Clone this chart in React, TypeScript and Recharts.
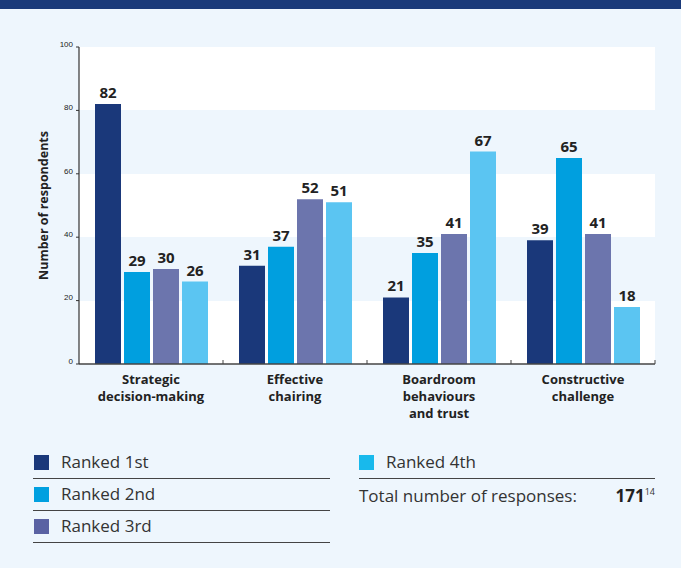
import React from 'react';
import { BarChart, Bar, XAxis, YAxis, CartesianGrid, LabelList, ReferenceLine } from 'recharts';

const categories = ['Strategic\ndecision-making', 'Effective\nchairing', 'Boardroom\nbehaviours\nand trust', 'Constructive\nchallenge'];
const ranked1st = [82, 31, 21, 39];
const ranked2nd = [29, 37, 35, 65];
const ranked3rd = [30, 52, 41, 41];
const ranked4th = [26, 51, 67, 18];
const yTicks = [0, 20, 40, 60, 80, 100];
const seriesNames = ['Ranked 1st', 'Ranked 2nd', 'Ranked 3rd', 'Ranked 4th'];
const seriesKeys = ['r1', 'r2', 'r3', 'r4'];
const seriesColors = ['#1a387a', '#009fdf', '#6c75ad', '#5bc5f2'];
const legendColors = ['#1a387a', '#00a0e0', '#5a62a3', '#18b9ec'];
const totalResponses = 171;
const footnote = '14';

const data = categories.map((c, i) => ({
  name: c,
  r1: ranked1st[i],
  r2: ranked2nd[i],
  r3: ranked3rd[i],
  r4: ranked4th[i],
}));

const FONT = '"Open Sans", "Noto Sans", sans-serif';
const BG = '#eef6fd';

const CategoryTick = (props: any) => {
  const { x, y, payload } = props;
  const lines = String(payload.value).split('\n');
  return (
    <text x={x} y={y} textAnchor="middle" fontFamily={FONT} fontWeight={700} fontSize={13} fill="#222">
      {lines.map((l, i) => (
        <tspan key={i} x={x} dy={i === 0 ? 12 : 17}>{l}</tspan>
      ))}
    </text>
  );
};

const YLabel = (props: any) => {
  const vb = props.viewBox || { x: 0, y: 0, width: 0, height: 0 };
  const cx = vb.x + 4;
  const cy = vb.y + vb.height / 2;
  return (
    <text x={cx} y={cy} transform={`rotate(-90 ${cx} ${cy})`} textAnchor="middle" dominantBaseline="central"
      fontFamily={FONT} fontWeight={700} fontSize={12.5} fill="#222">
      Number of respondents
    </text>
  );
};

const ShortTick = (props: any) => {
  const { x1, y1, y2 } = props;
  const bottom = Math.max(Number(y1), Number(y2));
  return <line x1={x1} x2={x1} y1={bottom} y2={bottom - 4} stroke="#444" strokeWidth={1} />;
};

export default function App() {
  return (
    <div style={{ position: 'absolute', left: 0, top: 0, width: 681, height: 568, background: BG, overflow: 'hidden', fontFamily: FONT }}>
      <div style={{ position: 'absolute', left: 0, top: 0, width: 681, height: 9, background: '#1a3a7a' }} />
      <div style={{ position: 'absolute', left: 0, top: 0 }}>
        <BarChart width={681} height={440} data={data} margin={{ top: 47, right: 26, left: 39, bottom: 16 }} barSize={26} barGap={3}>
          <CartesianGrid vertical={false} stroke="transparent" horizontalFill={['#ffffff', BG]} fillOpacity={1} />
          <XAxis dataKey="name" interval={0} height={60} tickLine={false} tick={<CategoryTick />} axisLine={{ stroke: '#444', strokeWidth: 1.5 }} />
          <YAxis domain={[0, 100]} ticks={yTicks} width={40} tickSize={3} tickMargin={3}
            axisLine={{ stroke: '#333', strokeWidth: 1.2 }} tickLine={{ stroke: '#333' }}
            tick={{ fontSize: 8, fill: '#222', fontFamily: 'Liberation Sans', dy: -3 }}
            label={<YLabel />} />
          {categories.map((c) => (
            <ReferenceLine key={c} x={c} position="end" stroke="#444" shape={<ShortTick />} ifOverflow="visible" />
          ))}
          {seriesKeys.map((k, i) => (
            <Bar key={k} dataKey={k} name={seriesNames[i]} fill={seriesColors[i]} isAnimationActive={false}>
              <LabelList dataKey={k} position="top" offset={6} fill="#222" fontFamily={FONT} fontWeight={700} fontSize={15} />
            </Bar>
          ))}
        </BarChart>
      </div>
      {seriesNames.slice(0, 3).map((n, i) => (
        <div key={n} style={{ position: 'absolute', left: 33, top: 448 + i * 32, width: 297, height: 30, borderBottom: '1.5px solid #444' }}>
          <div style={{ position: 'absolute', left: 1, top: 7, width: 15, height: 15, background: legendColors[i] }} />
          <div style={{ position: 'absolute', left: 28, top: 2, fontSize: 17, color: '#333', fontWeight: 400, whiteSpace: 'nowrap' }}>{n}</div>
        </div>
      ))}
      <div style={{ position: 'absolute', left: 359, top: 448, width: 296, height: 30, borderBottom: '1.5px solid #444' }}>
        <div style={{ position: 'absolute', left: 0, top: 7, width: 15, height: 15, background: legendColors[3] }} />
        <div style={{ position: 'absolute', left: 27, top: 2, fontSize: 17, color: '#333', fontWeight: 400, whiteSpace: 'nowrap' }}>{seriesNames[3]}</div>
      </div>
      <div style={{ position: 'absolute', left: 359, top: 482, width: 296, height: 30 }}>
        <div style={{ position: 'absolute', left: 0, top: 2, fontSize: 17, color: '#333', fontWeight: 400, whiteSpace: 'nowrap' }}>Total number of responses:</div>
        <div style={{ position: 'absolute', right: 0, top: 2, fontSize: 17, color: '#222', whiteSpace: 'nowrap' }}>
          <span style={{ fontWeight: 700 }}>{totalResponses}</span>
          <sup style={{ fontSize: 9, color: '#333' }}>{footnote}</sup>
        </div>
      </div>
    </div>
  );
}
